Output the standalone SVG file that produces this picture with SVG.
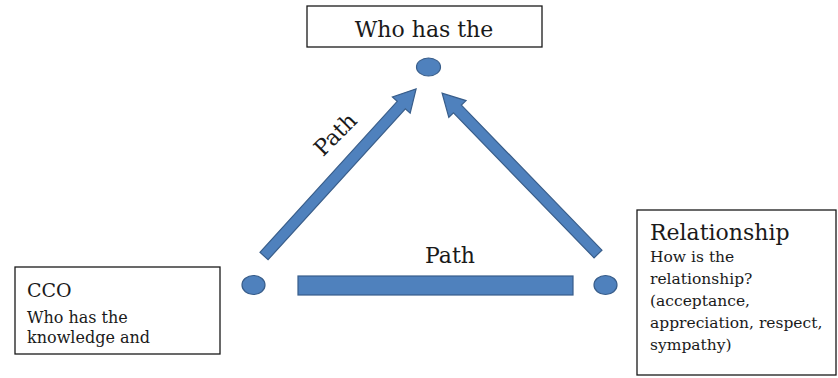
<svg xmlns="http://www.w3.org/2000/svg" width="838" height="378" viewBox="0 0 838 378">
<style>
.box{fill:#ffffff;stroke:#1a1a1a;stroke-width:1.3}
.dot{fill:#4f81bd;stroke:#385d8a;stroke-width:1.2}
.arrow{fill:#4f81bd;stroke:#385d8a;stroke-width:1.2}
.t{font-family:"DejaVu Serif","Liberation Serif",serif;fill:#1a1a1a}
.big{font-size:22px}
.small{font-size:16px}
.small2{font-size:15.5px}
</style>
<defs>
<path id="arr" d="M0,-5.5 L-20,-5.5 L-20,-12 L0,0"/>
</defs>
<rect width="838" height="378" fill="#ffffff"/>
<g id="node-top">
<rect class="box" x="307" y="6" width="235" height="41"/>
<text class="t big" x="424" y="37" text-anchor="middle">Who has the</text>
</g>
<g id="node-cco">
<rect class="box" x="15" y="267" width="205" height="87"/>
<text class="t" x="27" y="297" style="font-size:19px">CCO</text>
<text class="t small" x="27" y="323">Who has the</text>
<text class="t small" x="27" y="343">knowledge and</text>
</g>
<g id="node-relationship">
<rect class="box" x="637" y="210" width="199" height="165"/>
<text class="t big" x="650" y="240">Relationship</text>
<text class="t small2" x="650" y="262">How is the</text>
<text class="t small2" x="650" y="284">relationship?</text>
<text class="t small2" x="650" y="306">(acceptance,</text>
<text class="t small2" x="650" y="328">appreciation, respect,</text>
<text class="t small2" x="650" y="350">sympathy)</text>
</g>
<g id="dot-top"><ellipse class="dot" cx="428.5" cy="67" rx="12" ry="9"/></g>
<g id="dot-left"><ellipse class="dot" cx="253.5" cy="285" rx="11.5" ry="9.5"/></g>
<g id="dot-right"><ellipse class="dot" cx="605.5" cy="285" rx="11.5" ry="9.5"/></g>
<g id="connectors">
<polygon class="arrow" transform="translate(264,256) rotate(-47.7)" points="0,-5.5 204,-5.5 204,-12 226,0 204,12 204,5.5 0,5.5"/>
<polygon class="arrow" transform="translate(598,254) rotate(-134.1)" points="0,-5.5 202,-5.5 202,-12 224,0 202,12 202,5.5 0,5.5"/>
<rect class="arrow" x="298" y="276" width="275" height="19"/>
<text class="t big" x="335" y="142" text-anchor="middle" transform="rotate(-45 335 134)">Path</text>
<text class="t big" x="450" y="263" text-anchor="middle">Path</text>
</g>
</svg>
